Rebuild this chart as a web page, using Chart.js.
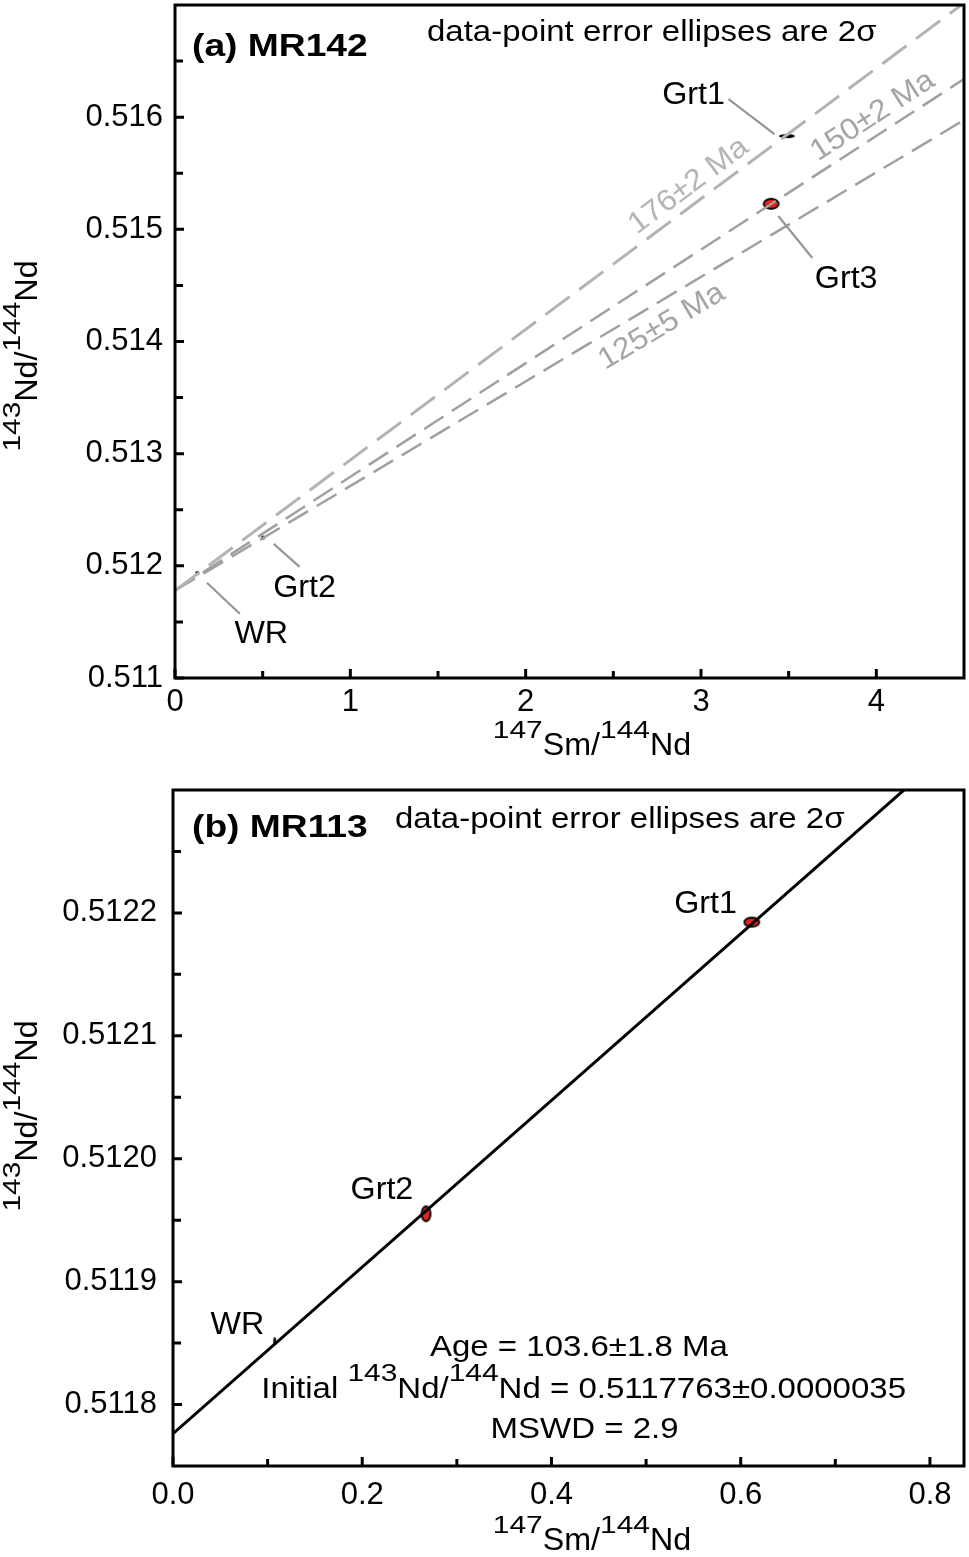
<!DOCTYPE html>
<html>
<head>
<meta charset="utf-8">
<title>Sm-Nd isochrons MR142 / MR113</title>
<script src="https://cdn.jsdelivr.net/npm/chart.js@4.4.1/dist/chart.umd.min.js"></script>
<style>
  body { margin: 0; background: #fff; }
  canvas { position: absolute; left: 0; }
  #chartA { top: 0; }
  #chartB { top: 760px; }
</style>
</head>
<body>
<canvas id="chartA" width="969" height="760"></canvas>
<canvas id="chartB" width="969" height="797"></canvas>
<script>
const FAMILY = '"Liberation Sans", Arial, Helvetica, sans-serif';

// ---------- panel (a) MR142 ----------
const samplesA = ['WR', 'Grt2', 'Grt1', 'Grt3'];
const smNdA = [0.127, 0.502, 3.49, 3.40];
const ndNdA = [0.511935, 0.512252, 0.515831, 0.515228];
// reference isochrons: value at x = 0 and at x = 4.5
const refLabelsA = ['176±2 Ma', '150±2 Ma', '125±5 Ma'];
const refStartA = [0.51178, 0.51178, 0.51178];
const refEndA = [0.517018, 0.51634, 0.515974];
const xTicksA = [0, 0.5, 1, 1.5, 2, 2.5, 3, 3.5, 4];
const xLabelsA = ['0', '', '1', '', '2', '', '3', '', '4'];
const yTicksA = [0.511, 0.5115, 0.512, 0.5125, 0.513, 0.5135, 0.514, 0.5145, 0.515, 0.5155, 0.516, 0.5165];
const yLabelsA = ['0.511', '', '0.512', '', '0.513', '', '0.514', '', '0.515', '', '0.516', ''];
// annotation anchors in data units
const labelPosA = [[0.492, 0.511315], [0.739, 0.511724], [2.958, 0.516116], [3.828, 0.514478]];
const leaderA = [[0.182, 0.511849, 0.370, 0.511573], [0.563, 0.512196, 0.711, 0.511991],
                 [3.157, 0.51616, 3.419, 0.515849], [3.441, 0.515119, 3.635, 0.514745]];
const refLabelPosA = [[2.93, 0.515386], [3.98, 0.516009], [2.776, 0.514131]];

// ---------- panel (b) MR113 ----------
const samplesB = ['WR', 'Grt2', 'Grt1'];
const smNdB = [0.1075, 0.2674, 0.6117];
const ndNdB = [0.5118516, 0.5119552, 0.5121925];
const isoX = [0, 0.836];
const isoY = [0.5117763, 0.512343];
const xTicksB = [0, 0.1, 0.2, 0.3, 0.4, 0.5, 0.6, 0.7, 0.8];
const xLabelsB = ['0.0', '', '0.2', '', '0.4', '', '0.6', '', '0.8'];
const yTicksB = [0.5118, 0.51185, 0.5119, 0.51195, 0.512, 0.51205, 0.5121, 0.51215, 0.5122, 0.51225];
const yLabelsB = ['0.5118', '', '0.5119', '', '0.5120', '', '0.5121', '', '0.5122', ''];
const labelPosB = [[0.068, 0.5118575], [0.2208, 0.5119676], [0.5628, 0.5122]];
const statsB = [
  [['Age = 103.6±1.8 Ma', 0]],
  [['Initial ', 0], ['143', 1], ['Nd/', 0], ['144', 1], ['Nd = 0.5117763±0.0000035', 0]],
  [['MSWD = 2.9', 0]]
];
const statsPosB = [[0.429, 0.5118397], [0.434, 0.5118057], [0.435, 0.5117725]];

const xTitleParts = [['147', 1], ['Sm/', 0], ['144', 1], ['Nd', 0]];
const yTitleParts = [['143', 1], ['Nd/', 0], ['144', 1], ['Nd', 0]];

// error ellipse drawn into a small canvas, used as point style
function ellipseMark(w, h, fill, stroke, lw) {
	const c = document.createElement('canvas');
	c.width = Math.ceil(w + 2 * lw + 2);
	c.height = Math.ceil(h + 2 * lw + 2);
	const g = c.getContext('2d');
	g.beginPath();
	g.ellipse(c.width / 2, c.height / 2, w / 2, h / 2, 0, 0, 2 * Math.PI);
	g.fillStyle = fill;
	g.fill();
	if (lw > 0) {
		g.lineWidth = lw;
		g.strokeStyle = stroke;
		g.stroke();
	}
	return c;
}

const RED = '#e0261c';
const marksA = [ellipseMark(4, 4, '#000', '#000', 0), ellipseMark(4, 4, '#000', '#000', 0),
                ellipseMark(16, 4, '#000', '#000', 0), ellipseMark(15, 10, RED, '#000', 1.8)];
const marksB = [ellipseMark(3, 8, '#111', '#000', 0), ellipseMark(9, 15, RED, '#000', 1.8),
                ellipseMark(15, 9, RED, '#000', 1.8)];

// text with optional superscripts; parts = [[text, isSup], ...]
function drawRich(ctx, parts, x, y, opt) {
	opt = opt || {};
	const size = opt.size || 30, supSize = opt.supSize || 23;
	const sx = opt.sx || 1.08, supSx = opt.supSx || 1.3, raise = opt.raise || 17;
	const weight = opt.bold ? 'bold ' : '';
	ctx.save();
	ctx.textBaseline = opt.baseline || 'alphabetic';
	ctx.textAlign = 'left';
	ctx.fillStyle = opt.color || '#000';
	let total = 0;
	const widths = parts.map(([t, sup]) => {
		ctx.font = weight + (sup ? supSize : size) + 'px ' + FAMILY;
		const w = ctx.measureText(t).width * (sup ? supSx : sx);
		total += w;
		return w;
	});
	ctx.translate(x, y);
	if (opt.rot) ctx.rotate(opt.rot);
	let cx = opt.align === 'left' ? 0 : -total / 2;
	parts.forEach(([t, sup], i) => {
		ctx.font = weight + (sup ? supSize : size) + 'px ' + FAMILY;
		ctx.save();
		ctx.translate(cx, sup ? -raise : 0);
		ctx.scale(sup ? supSx : sx, 1);
		ctx.fillText(t, 0, 0);
		ctx.restore();
		cx += widths[i];
	});
	ctx.restore();
}

function drawFrame(chart, xTicks, xLabels, yTicks, yLabels) {
	const ctx = chart.ctx, a = chart.chartArea;
	const xs = chart.scales.x, ys = chart.scales.y;
	ctx.save();
	ctx.strokeStyle = '#000';
	ctx.lineWidth = 3;
	ctx.strokeRect(a.left, a.top, a.right - a.left, a.bottom - a.top);
	ctx.beginPath();
	xTicks.forEach((v, i) => {
		const px = xs.getPixelForValue(v);
		const len = xLabels[i] ? 9 : 7;
		ctx.moveTo(px, a.bottom);
		ctx.lineTo(px, a.bottom - len);
	});
	yTicks.forEach((v, i) => {
		const py = ys.getPixelForValue(v);
		const len = yLabels[i] ? 9 : 8;
		ctx.moveTo(a.left, py);
		ctx.lineTo(a.left + len, py);
	});
	ctx.stroke();
	ctx.restore();
}

function axisOptions(min, max, ticks, labels, pad, size, isX) {
	return {
		type: 'linear',
		min: min,
		max: max,
		grid: { display: false, drawTicks: false },
		border: { display: false },
		afterBuildTicks: s => { s.ticks = ticks.map(v => ({ value: v })); },
		afterFit: s => {
			if (isX) s.height = size; else s.width = size;
			s.paddingLeft = 0; s.paddingRight = 0; s.paddingTop = 0; s.paddingBottom = 0;
		},
		ticks: {
			autoSkip: false,
			maxRotation: 0,
			minRotation: 0,
			padding: pad,
			color: '#000',
			font: { family: FAMILY, size: 31 },
			callback: (v, i) => labels[i]
		}
	};
}

// ---------- chart (a) ----------
const xMaxA = 4.5;
const refColorsA = ['#b3b3b3', '#a0a0a0', '#a0a0a0'];
const refWidthA = [3, 2.5, 2.5];
const refDashA = [[30, 12], [23, 10], [23, 10]];

const dataA = refLabelsA.map((lab, i) => ({
	label: lab,
	showLine: true,
	pointRadius: 0,
	data: [{ x: 0, y: refStartA[i] }, { x: xMaxA, y: refEndA[i] }],
	borderColor: refColorsA[i],
	borderWidth: refWidthA[i],
	borderDash: refDashA[i]
}));
dataA.push({
	label: 'MR142',
	data: smNdA.map((x, i) => ({ x: x, y: ndNdA[i] })),
	pointStyle: marksA,
	pointRadius: 4
});

const extrasA = {
	id: 'extrasA',
	afterDatasetsDraw(chart) {
		const ctx = chart.ctx, a = chart.chartArea;
		const xs = chart.scales.x, ys = chart.scales.y;
		const X = v => xs.getPixelForValue(v), Y = v => ys.getPixelForValue(v);

		// leader lines
		ctx.save();
		ctx.strokeStyle = '#969696';
		ctx.lineWidth = 2.2;
		ctx.beginPath();
		leaderA.forEach(l => { ctx.moveTo(X(l[0]), Y(l[1])); ctx.lineTo(X(l[2]), Y(l[3])); });
		ctx.stroke();
		ctx.restore();

		samplesA.forEach((s, i) => drawRich(ctx, [[s, 0]], X(labelPosA[i][0]), Y(labelPosA[i][1]), { sx: 1.04, size: 31 }));

		// rotated age labels along their reference lines
		refLabelsA.forEach((lab, i) => {
			const ang = Math.atan2(Y(refEndA[i]) - Y(refStartA[i]), X(xMaxA) - X(0));
			drawRich(ctx, [[lab, 0]], X(refLabelPosA[i][0]), Y(refLabelPosA[i][1]),
				{ rot: ang, baseline: 'middle', color: i === 0 ? '#b5b5b5' : '#a5a5a5', size: 30, sx: 1.06 });
		});

		drawRich(ctx, [['(a) MR142', 0]], a.left + 17, a.top + 51, { bold: true, size: 31, sx: 1.2, align: 'left' });
		drawRich(ctx, [['data-point error ellipses are 2σ', 0]], a.left + 252, a.top + 36, { sx: 1.1, align: 'left' });

		drawRich(ctx, xTitleParts, 592, 755, { sx: 1.04, size: 31 });
		drawRich(ctx, yTitleParts, 37, 356, { sx: 1.04, size: 31 , rot: -Math.PI / 2 });

		drawFrame(chart, xTicksA, xLabelsA, yTicksA, yLabelsA);
	}
};

new Chart(document.getElementById('chartA'), {
	type: 'scatter',
	data: { datasets: dataA },
	options: {
		responsive: false,
		animation: false,
		events: [],
		layout: { padding: { top: 4, right: 3, left: 0, bottom: 0 } },
		plugins: { legend: { display: false }, tooltip: { enabled: false } },
		scales: {
			x: axisOptions(0, xMaxA, xTicksA, xLabelsA, 6, 82, true),
			y: axisOptions(0.511, 0.517, yTicksA, yLabelsA, 12, 175, false)
		}
	},
	plugins: [extrasA]
});

// ---------- chart (b) ----------
const dataB = [{
	label: 'isochron',
	showLine: true,
	pointRadius: 0,
	data: isoX.map((x, i) => ({ x: x, y: isoY[i] })),
	borderColor: '#000',
	borderWidth: 3
}, {
	label: 'MR113',
	data: smNdB.map((x, i) => ({ x: x, y: ndNdB[i] })),
	pointStyle: marksB,
	pointRadius: 4
}];

const extrasB = {
	id: 'extrasB',
	afterDatasetsDraw(chart) {
		const ctx = chart.ctx, a = chart.chartArea;
		const xs = chart.scales.x, ys = chart.scales.y;
		const X = v => xs.getPixelForValue(v), Y = v => ys.getPixelForValue(v);

		samplesB.forEach((s, i) => drawRich(ctx, [[s, 0]], X(labelPosB[i][0]), Y(labelPosB[i][1]), { sx: 1.04, size: 31 }));
		statsB.forEach((line, i) => drawRich(ctx, line, X(statsPosB[i][0]), Y(statsPosB[i][1]), { sx: 1.1 }));

		drawRich(ctx, [['(b) MR113', 0]], a.left + 19, a.top + 47, { bold: true, size: 31, sx: 1.2, align: 'left' });
		drawRich(ctx, [['data-point error ellipses are 2σ', 0]], a.left + 222, a.top + 38, { sx: 1.1, align: 'left' });

		drawRich(ctx, xTitleParts, 592, 790, { sx: 1.04, size: 31 });
		drawRich(ctx, yTitleParts, 37, 356, { sx: 1.04, size: 31, rot: -Math.PI / 2 });

		drawFrame(chart, xTicksB, xLabelsB, yTicksB, yLabelsB);
	}
};

new Chart(document.getElementById('chartB'), {
	type: 'scatter',
	data: { datasets: dataB },
	options: {
		responsive: false,
		animation: false,
		events: [],
		layout: { padding: { top: 30, right: 2, left: 0, bottom: 0 } },
		plugins: { legend: { display: false }, tooltip: { enabled: false } },
		scales: {
			x: axisOptions(0, 0.836, xTicksB, xLabelsB, 11, 91, true),
			y: axisOptions(0.51175, 0.5123, yTicksB, yLabelsB, 16, 173, false)
		}
	},
	plugins: [extrasB]
});
</script>
</body>
</html>
